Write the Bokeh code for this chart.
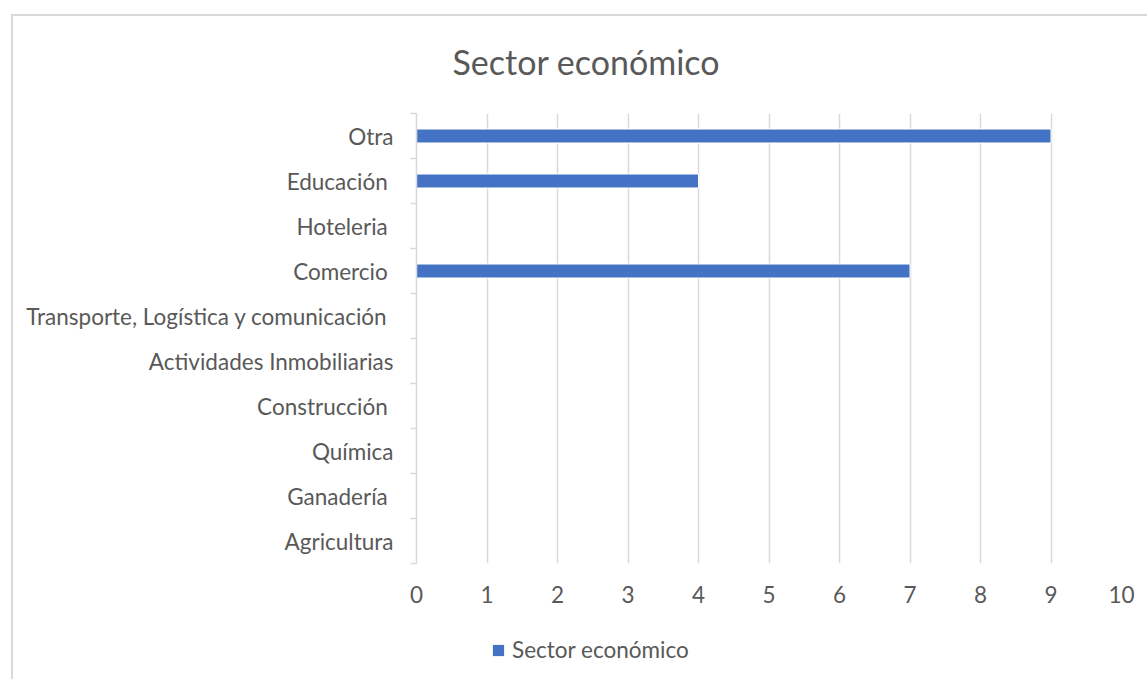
from bokeh.plotting import figure
from bokeh.layouts import column
from bokeh.models import (Range1d, LinearAxis, FixedTicker, Legend, LegendItem, ColumnDataSource)
from bokeh.embed import file_html
from bokeh.resources import INLINE

categories = ["Agricultura", "Ganadería", "Química", "Construcción", "Actividades Inmobiliarias",
              "Transporte, Logística y comunicación", "Comercio", "Hoteleria", "Educación", "Otra"]
trailing_space = ["Ganadería", "Construcción", "Transporte, Logística y comunicación",
                  "Comercio", "Hoteleria", "Educación"]
values = [0, 0, 0, 0, 0, 0, 7, 0, 4, 9]
x_ticks = [0, 1, 2, 3, 4, 5, 6, 7, 8, 9, 10]
title_text = "Sector económico"
series_name = "Sector económico"

FONT = "Lato"
TXT = "#595959"
GRID = "#d9d9d9"
BAR = "#4472C4"
FS = "22.5px"

n = len(categories)
centers = [i + 0.5 for i in range(n)]

p = figure(width=1147, height=620, y_range=Range1d(0, n), x_range=Range1d(0, 10),
           y_axis_location=None, output_backend="svg", toolbar_location=None)
# light chart-area border (left and top edges; the rest is cropped in the reference)
p.styles = {"box-shadow": "inset 11px 14px 0 0 #ffffff, inset 13px 16px 0 0 #d9d9d9"}
p.min_border_left = 416
p.min_border_right = 26
p.min_border_top = 113
p.min_border_bottom = 57
p.outline_line_color = None
p.background_fill_color = "white"
p.border_fill_alpha = 0

src = ColumnDataSource(dict(y=centers, v=values, name=categories))
r = p.hbar(y="y", right="v", left=0, height=0.31, source=src, fill_color=BAR,
           line_color="white", line_width=1)

# title
p.title.text = title_text
p.title.align = "left"
p.title.offset = 36
p.title.standoff = 64
p.title.text_font = FONT
p.title.text_font_size = "34px"
p.title.text_font_style = "normal"
p.title.text_color = TXT

# x axis / grid
xa = p.xaxis[0]
xa.ticker = FixedTicker(ticks=x_ticks)
xa.axis_line_color = None
xa.major_tick_line_color = None
xa.minor_tick_line_color = None
xa.major_label_text_font = FONT
xa.major_label_text_font_size = FS
xa.major_label_text_color = TXT
xa.major_label_standoff = 16
p.xgrid.ticker = FixedTicker(ticks=x_ticks[1:])
p.xgrid.grid_line_color = GRID
p.xgrid.grid_line_width = 1.5
p.ygrid.grid_line_color = None

# boundary ticks axis (category separators)
ta = LinearAxis(ticker=FixedTicker(ticks=list(range(n + 1))))
ta.major_label_overrides = {i: "" for i in range(n + 1)}
ta.major_label_text_color = None
ta.major_label_standoff = 0
ta.major_tick_out = 6
ta.major_tick_in = 0
ta.minor_tick_line_color = None
ta.axis_line_color = GRID
ta.axis_line_width = 1.5
ta.major_tick_line_color = GRID
ta.major_tick_line_width = 1.5
p.add_layout(ta, "left")

# category labels axis
ca = LinearAxis(ticker=FixedTicker(ticks=centers))
ca.axis_line_color = None
ca.major_tick_line_color = None
ca.minor_tick_line_color = None
ca.major_tick_out = 0
ca.major_label_standoff = 17
ca.major_label_text_font = FONT
ca.major_label_text_font_size = FS
ca.major_label_text_color = TXT
ca.major_label_overrides = {c: (name + "\u00a0" if name in trailing_space else name)
                            for c, name in zip(centers, categories)}
p.add_layout(ca, "left")

# legend strip below the chart (its frame is aligned with the chart's frame)
lf = figure(width=1147, height=59, x_range=Range1d(0, 10), y_range=Range1d(100, 101),
            x_axis_location=None, y_axis_location=None, output_backend="svg",
            toolbar_location=None, min_border=0)
lf.styles = {"box-shadow": "inset 11px 0 0 0 #ffffff, inset 13px 0 0 0 #d9d9d9"}
lf.outline_line_color = None
lf.background_fill_alpha = 0
lf.border_fill_alpha = 0
lf.xgrid.grid_line_color = None
lf.ygrid.grid_line_color = None
# same series, drawn out of view here: only its legend swatch shows
lr = lf.hbar(y="y", right="v", left=0, height=0.31, source=src, fill_color=BAR, line_color=None)
legend = Legend(items=[LegendItem(label=series_name, renderers=[lr])], location=(75, 16),
                orientation="horizontal",
                border_line_color=None, background_fill_alpha=0, padding=0, margin=0,
                glyph_width=14, glyph_height=14, label_standoff=7,
                label_text_font=FONT, label_text_font_size=FS, label_text_color=TXT)
lf.add_layout(legend, "center")

layout = column(p, lf, spacing=0)
open("out.html", "w").write(file_html(layout, INLINE))
